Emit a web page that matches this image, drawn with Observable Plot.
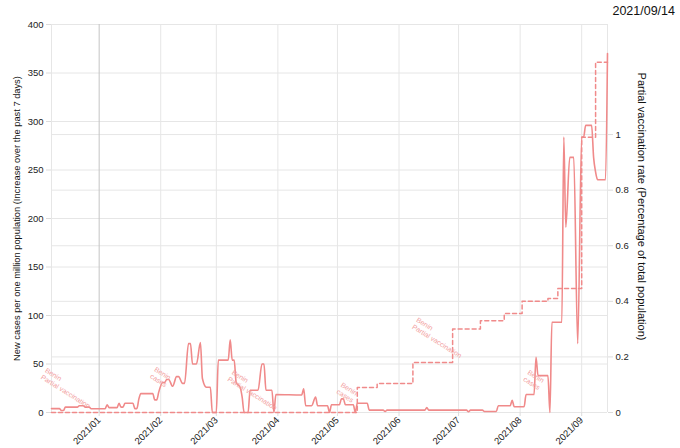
<!DOCTYPE html>
<html><head><meta charset="utf-8">
<script src="https://cdn.jsdelivr.net/npm/d3@7"></script>
<script src="https://cdn.jsdelivr.net/npm/@observablehq/plot@0.6"></script>
<style>
body{margin:0;background:#fff;font-family:"Liberation Sans",Arial,Helvetica,sans-serif}
#wrap{position:relative;width:680px;height:448px}
#title{position:absolute;right:5px;top:4px;font-size:12.5px;color:#111}
</style></head><body>
<div id="wrap"><div id="title">2021/09/14</div></div>
<script>
const caseDates = ["2020-12-08","2020-12-12","2020-12-13","2020-12-14","2020-12-15","2020-12-21","2020-12-22","2020-12-24","2020-12-25","2020-12-27","2020-12-28","2021-01-04","2021-01-05","2021-01-06","2021-01-10","2021-01-11","2021-01-12","2021-01-13","2021-01-14","2021-01-18","2021-01-19","2021-01-20","2021-01-21","2021-01-22","2021-01-28","2021-01-29","2021-01-30","2021-01-31","2021-02-02","2021-02-03","2021-02-04","2021-02-05","2021-02-07","2021-02-09","2021-02-10","2021-02-12","2021-02-13","2021-02-15","2021-02-16","2021-02-17","2021-02-19","2021-02-21","2021-02-22","2021-02-24","2021-02-26","2021-02-27","2021-03-01","2021-03-02","2021-03-07","2021-03-08","2021-03-09","2021-03-10","2021-03-11","2021-03-13","2021-03-14","2021-03-15","2021-03-17","2021-03-18","2021-03-22","2021-03-24","2021-03-25","2021-03-26","2021-03-29","2021-03-30","2021-03-31","2021-04-13","2021-04-14","2021-04-15","2021-04-18","2021-04-20","2021-04-21","2021-04-26","2021-04-27","2021-04-28","2021-05-02","2021-05-03","2021-05-04","2021-05-05","2021-05-09","2021-05-10","2021-05-11","2021-05-16","2021-05-17","2021-05-24","2021-05-25","2021-05-26","2021-06-14","2021-06-15","2021-06-16","2021-07-05","2021-07-06","2021-07-07","2021-07-13","2021-07-14","2021-07-20","2021-07-21","2021-07-27","2021-07-28","2021-07-29","2021-08-03","2021-08-04","2021-08-08","2021-08-09","2021-08-10","2021-08-15","2021-08-16","2021-08-17","2021-08-22","2021-08-23","2021-08-24","2021-08-26","2021-08-28","2021-08-30","2021-09-01","2021-09-02","2021-09-03","2021-09-06","2021-09-07","2021-09-08","2021-09-09","2021-09-13","2021-09-14"];
const caseValues = [4,4,2,2,5.5,5.5,7,7,5.5,5.5,3.8,3.8,8,5,5,9.5,5.5,5.5,9.5,9.5,4,4,14,19.5,19.5,13,13,21,31,31,34,34,27,37,37,30,30,71,71,50,50,72,35,26,26,0,0,54,54,75,54,54,31,26,16,0,0,23,23,50,50,23,23,0,18.5,18,24.5,7,7,16,7,7,0,8,8,14,14,8,8,0,9.6,9.6,2.5,2.5,1,2.5,2.5,5,2.5,2.5,0.8,2.5,2.5,1,1,7,7,12.5,6,6,18.5,18.5,57,38,38,0,93,93,284,191,263,263,71,284,284,296,296,263,248,240,240,370];

const vaxDates = ["2020-12-08","2021-05-11","2021-05-21","2021-06-08","2021-06-28","2021-07-12","2021-07-24","2021-08-02","2021-08-15","2021-08-20","2021-09-01","2021-09-08","2021-09-14"];
const vaxValues = [0,0.09,0.104,0.18,0.30,0.33,0.356,0.40,0.41,0.446,0.99,1.26,1.26];

const leftTicks = [0,50,100,150,200,250,300,350,400];
const rightTicks = [0,0.2,0.4,0.6,0.8,1];
const rightTickLabels = ["0","0.2","0.4","0.6","0.8","1"];
const monthTicks = ["2021-01-01","2021-02-01","2021-03-01","2021-04-01","2021-05-01","2021-06-01","2021-07-01","2021-08-01","2021-09-01"];
const monthLabels = ["2021/01","2021/02","2021/03","2021/04","2021/05","2021/06","2021/07","2021/08","2021/09"];

const labelDates = ["2020-12-06","2021-01-30","2021-03-10","2021-05-04","2021-06-11","2021-08-06"];
const labelValues = [47,48,45,32,99,45];
const labelTexts = ["Benin\nPartial vaccination","Benin\ncases","Benin\nPartial vaccination","Benin\ncases","Benin\nPartial vaccination","Benin\ncases"];

const leftTitle = "New cases per one million population (Increase over the past 7 days)";
const rightTitle = "Partial vaccination rate (Percentage of total population)";

const rightMax = 1.396;
const k = 400 / rightMax;
const P = s => new Date(s);

const cases = caseDates.map((d,i)=>({date:P(d), v:caseValues[i]}));
const vax = vaxDates.map((d,i)=>({date:P(d), v:vaxValues[i]*k}));
const labels = labelDates.map((d,i)=>({date:P(d), v:labelValues[i], t:labelTexts[i]}));
const months = monthTicks.map(P);
const rightTickPos = rightTicks.map(v=>v*k);
const lineColor = "#f08a8a";

const chart = Plot.plot({
  width:680, height:448,
  marginLeft:51, marginRight:73, marginTop:24, marginBottom:36,
  style:{fontFamily:"'Liberation Sans', Arial, Helvetica, sans-serif", fontSize:"9px", color:"#222", background:"#fff", overflow:"visible"},
  x:{type:"utc", domain:[P("2020-12-08"), P("2021-09-14")]},
  y:{domain:[0,400]},
  marks:[
    Plot.ruleY(leftTicks, {stroke:"#e6e6e6"}),
    Plot.ruleY(rightTickPos, {stroke:"#e6e6e6"}),
    Plot.ruleX(months.filter(d=>d.getUTCMonth()!==0), {stroke:"#e6e6e6", y1:0, y2:400}),
    Plot.ruleX(months.filter(d=>d.getUTCMonth()===0), {stroke:"#c4c4c4", y1:0, y2:400}),
    Plot.ruleX([P("2020-12-08"), P("2021-09-14")], {stroke:"#e6e6e6", y1:0, y2:400}),
    Plot.axisY({ticks:leftTicks, anchor:"left", tickSize:5, tickPadding:3, stroke:"#dcdcdc", fill:"#222", fontSize:9.5, label:null}),
    Plot.axisY({ticks:rightTickPos, anchor:"right", tickSize:5, tickPadding:3, stroke:"#dcdcdc", fill:"#222", fontSize:9.5, label:null,
      tickFormat: d => rightTickLabels[rightTickPos.findIndex(p=>Math.abs(p-d)<1e-6)]}),
    Plot.axisX({ticks:months, tickRotate:-45, tickSize:4, tickPadding:2, stroke:"#dcdcdc", fill:"#222", fontSize:9.5, label:null,
      tickFormat: d => monthLabels[months.findIndex(m=>+m===+d)]}),
    Plot.line(vax, {x:"date", y:"v", curve:"step-after", stroke:lineColor, strokeWidth:1.5, strokeDasharray:"4,3"}),
    Plot.line(cases, {x:"date", y:"v", curve:"monotone-x", stroke:lineColor, strokeWidth:1.6}),
    Plot.text(labels, {x:"date", y:"v", text:"t", rotate:32, textAnchor:"start", lineAnchor:"top", fontSize:7, fill:"#f2a0a0", lineHeight:1.15}),
    Plot.text([leftTitle], {frameAnchor:"left", dx:-34, rotate:-90, textAnchor:"middle", lineAnchor:"middle", fontSize:9.3, fill:"#111"}),
    Plot.text([rightTitle], {frameAnchor:"right", dx:34, dy:-12, rotate:90, textAnchor:"middle", lineAnchor:"middle", fontSize:11, fill:"#111"})
  ]
});
document.getElementById("wrap").appendChild(chart);
</script>
</body></html>
